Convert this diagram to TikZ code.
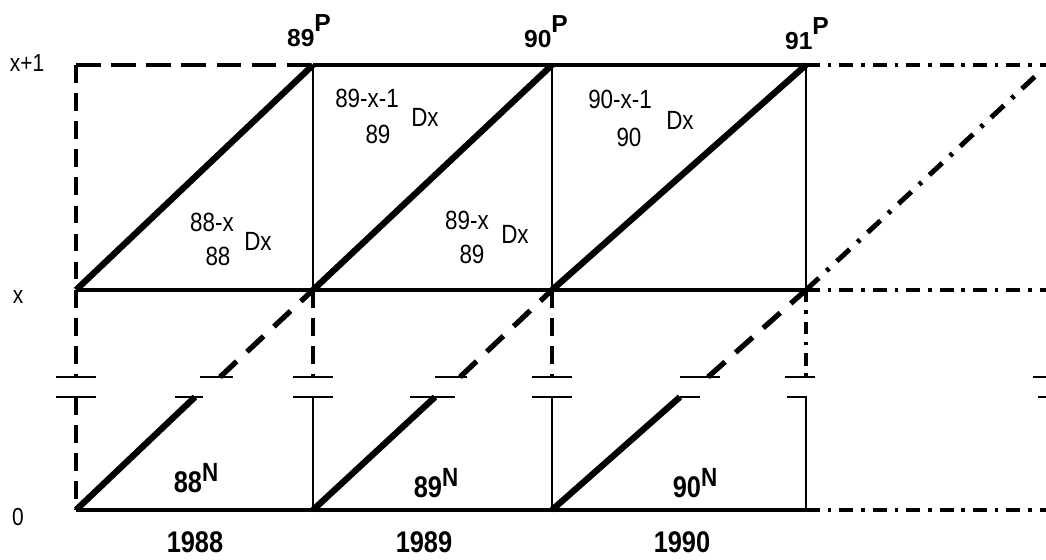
\documentclass[tikz,border=0pt]{standalone}
\usepackage{fontspec}
\setmainfont{Liberation Sans}
\newfontfamily\narrowfont[FakeStretch=0.85]{Liberation Sans}
\usetikzlibrary{calc}

\tikzset{
  rowline/.style={line width=2.3pt},
  colline/.style={line width=1.6pt},
  lifeline/.style={line width=3.6pt},
  dashrow/.style={line width=2.3pt, dash pattern=on 14pt off 6pt},
  dashcol/.style={line width=1.8pt, dash pattern=on 10pt off 6pt},
  dashlife/.style={line width=3pt, dash pattern=on 13pt off 8pt},
  dotrow/.style={line width=2.3pt, dash pattern=on 8pt off 4.5pt on 2pt off 4.5pt},
  dotcol/.style={line width=1.8pt, dash pattern=on 7pt off 4.5pt on 2pt off 4.5pt},
  dotlife/.style={line width=2.8pt, dash pattern=on 10pt off 6pt on 2pt off 6pt},
  breakmark/.style={line width=1.4pt},
  axislab/.style={font=\narrowfont\fontsize{14}{14}\selectfont, inner sep=0pt},
  cell/.style={font=\narrowfont\fontsize{15}{15}\selectfont, inner sep=0pt},
  plab/.style={font=\fontsize{14}{14}\selectfont\bfseries, inner sep=0pt, anchor=base},
  nlab/.style={font=\narrowfont\fontsize{17}{17}\selectfont\bfseries, inner sep=0pt, anchor=base},
  yearlab/.style={font=\narrowfont\fontsize{17}{17}\selectfont\bfseries, inner sep=0pt, anchor=base}
}

\begin{document}
\begin{tikzpicture}[x=0.02cm, y=-0.02cm]
    \useasboundingbox (0,0) rectangle (1046,560);

    % Grid points: columns are the year limits, rows are ages x+1, x, 0
    % U = upper end of the axis break, L = lower end of the break
    \foreach \i/\xx in {0/76, 1/313, 2/552, 3/806} {
        \coordinate (T\i) at (\xx,65);
        \coordinate (M\i) at (\xx,290);
        \coordinate (U\i) at (\xx,377);
        \coordinate (L\i) at (\xx,397);
        \coordinate (B\i) at (\xx,510);
    }
    \coordinate (Tend) at (1046,65);
    \coordinate (Mend) at (1046,290);
    \coordinate (Bend) at (1046,510);

    % Horizontal lines
    \draw[dashrow] (T0) -- (T1);
    \draw[rowline] (T1) -- (T3);
    \draw[dotrow] (T3) -- (Tend);
    \draw[rowline] (M0) -- (M3);
    \draw[dotrow] (M3) -- (Mend);
    \draw[rowline] (B0) -- (B3);
    \draw[dotrow] (B3) -- (Bend);

    % Vertical lines between ages x and x+1
    \draw[dashcol] (T0) -- (M0);
    \foreach \i in {1,2,3} \draw[colline] (T\i) -- (M\i);

    % Vertical lines across the break
    \foreach \i in {0,1,2} {
        \draw[dashcol] (M\i) -- (U\i);
        \draw[breakmark] ($(U\i)+(-20,0)$) -- ($(U\i)+(20,0)$);
        \draw[breakmark] ($(L\i)+(-20,0)$) -- ($(L\i)+(20,0)$);
    }
    \draw[dotcol] (M3) -- (U3);
    \draw[breakmark] ($(U3)+(-21,0)$) -- ($(U3)+(9,0)$);
    \draw[dashcol] (L0) -- (B0);
    \draw[colline] (L1) -- (B1);
    \draw[colline] (L2) -- (B2);
    \draw[colline] ($(L3)+(-19,0)$) -- (L3) -- (B3);

    % Break marks at the right edge
    \draw[breakmark] (1033,377) -- (1046,377);
    \draw[breakmark] (1038,397) -- (1046,397);

    % Life lines between ages x and x+1
    \draw[lifeline] (M0) -- (T1);
    \draw[lifeline] (M1) -- (T2);
    \draw[lifeline] (M2) -- (T3);
    \draw[dotlife] (M3) -- (1042,70);

    % Life lines from birth (age 0), broken at the axis break
    % 1988
    \draw[lifeline] (B0) -- (195,397);
    \draw[breakmark] (175,397) -- (203,397);
    \draw[breakmark] (200,377) -- (233,377);
    \draw[dashlife] (220,377) -- (M1);
    % 1989
    \draw[lifeline] (B1) -- (435,397);
    \draw[breakmark] (410,397) -- (455,397);
    \draw[breakmark] (435,377) -- (467,377);
    \draw[dashlife] (460,377) -- (M2);
    % 1990
    \draw[lifeline] (B2) -- (680,397);
    \draw[breakmark] (680,397) -- (700,397);
    \draw[breakmark] (680,377) -- (720,377);
    \draw[dashlife] (708,377) -- (M3);

    % Age labels
    \node[axislab] (agex1) at (27,63) {x+1};
    \node[axislab] (agex) at (18,297) {x};
    \node[axislab] (age0) at (18,517) {0};

    % Population at 1 January
    \node[plab] (p89) at (309,47) {89\raisebox{0.62em}{P}};
    \node[plab] (p90) at (546,48) {90\raisebox{0.62em}{P}};
    \node[plab] (p91) at (807,50) {91\raisebox{0.62em}{P}};

    % Births
    \node[nlab] (n88) at (196,493) {88{\fontsize{15}{15}\selectfont\raisebox{0.42em}{N}}};
    \node[nlab] (n89) at (436,498) {89{\fontsize{15}{15}\selectfont\raisebox{0.42em}{N}}};
    \node[nlab] (n90) at (695,498) {90{\fontsize{15}{15}\selectfont\raisebox{0.42em}{N}}};

    % Years
    \node[yearlab] (y88) at (195,553) {1988};
    \node[yearlab] (y89) at (424,553) {1989};
    \node[yearlab] (y90) at (682,553) {1990};

    % Deaths, lower triangles
    \node[cell] (d88t) at (212,222) {88-x};
    \node[cell] (d88b) at (218,256) {88};
    \node[cell] (d88x) at (258,241) {Dx};
    \node[cell] (d89t) at (467,220) {89-x};
    \node[cell] (d89b) at (472,254) {89};
    \node[cell] (d89x) at (515,234) {Dx};

    % Deaths, upper triangles
    \node[cell] (u89t) at (367,98) {89-x-1};
    \node[cell] (u89b) at (378,134) {89};
    \node[cell] (u89x) at (425,117) {Dx};
    \node[cell] (u90t) at (620,99) {90-x-1};
    \node[cell] (u90b) at (629,137) {90};
    \node[cell] (u90x) at (680,120) {Dx};

\end{tikzpicture}
\end{document}
